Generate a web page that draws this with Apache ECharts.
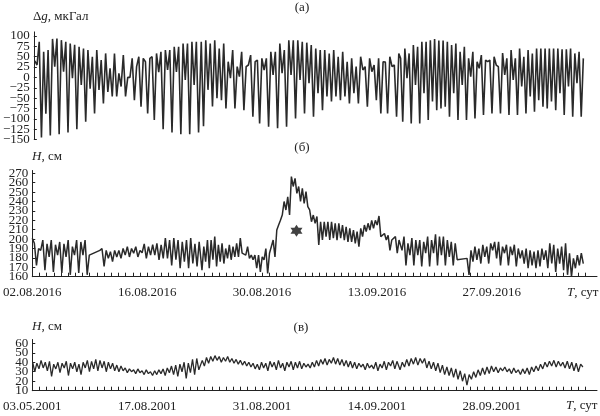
<!DOCTYPE html>
<html><head><meta charset="utf-8">
<script src="https://cdn.jsdelivr.net/npm/echarts@6/dist/echarts.min.js"></script>
<style>html,body{margin:0;padding:0;background:#fff}#c{width:600px;height:416px}</style>
</head><body><div id="c"></div>
<script>
// ---------- data ----------
const dateLabels2016 = ['02.08.2016', '16.08.2016', '30.08.2016', '13.09.2016', '27.09.2016'];
const dateLabels2001 = ['03.05.2001', '17.08.2001', '31.08.2001', '14.09.2001', '28.09.2001'];
const labelDays = [0, 14, 28, 42, 56];
const ticksA = [-150, -125, -100, -75, -50, -25, 0, 25, 50, 75, 100];
const ticksB = [160, 170, 180, 190, 200, 210, 220, 230, 240, 250, 260, 270];
const ticksC = [10, 20, 30, 40, 50, 60];

// (a) gravity tides, μGal — three consecutive record pieces
const tideA1 = [40, 30, 86, -145, 62, -88, 66, -140, 93, 26, 94, -137, 90, 14, 86, -133, 82, -2, 79, -125, 74, -18, 70, -107, 66, -27, 50, -87, 66, -30, 42, -63, 58, -35, 22, -46, 58, -46, 10, -22, 54, -46, 0, 0, 46, -55, 26, 50, -71, 46, 38, -87, 46, 50, -103, 58, 13, 62, -125, 66, 18, 66, -133, 74, 13, 74, -137, 82, -6, 82, -137, 86, -18, 86, -133];
const tideA2 = [86, -118, 90, -30, 82, -70, 90, -50, 70, -55, 82, -75, 38, -2, 66, -75, 26, 2, 62, -79, 26, 30, 54, -95, 38, 42, -111, 46, 18, 46, -119, 62, 6, 62, -123, 82, 10, 66, -119, 90, 6, 90, -99, 90, -6, 86, -87, 84, -14, 78, -95, 70, -38, 66, -79, 66, -46, 58, -58, 66, -46, 50, -55, 62, -46, 38, -63, 46, -38, 26, -63, 50, 18, 26, -71, 46, 14, 30, -55, 46, -87, 38, 37, -87, 50, 26, 30, -95, 58];
const tideA3 = [46, -107, 70, -2, 58, -111, 78, -18, 74, -111, 86, -38, 86, -103, 90, -58, 93, -79, 89, -75, 89, -71, 86, -95, 78, -38, 82, -103, 62, -18, 74, -103, 46, 2, 62, -99, 38, 22, 54, -91, 42, 38, 42, -87, 50, 30, 26, -87, 59, 6, 46, -91, 66, -6, 46, -91, 70, -22, 50, -87, 66, -46, 58, -83, 70, -55, 70, -71, 70, -75, 70, -58, 70, -79, 70, -38, 68, -91, 68, -22, 70, -95, 58, -14, 62, -95, 46];
const segDaysA = [[0.12, 20.13], [20.46, 44.6], [44.82, 67.15]];

// (б) water level 2016, cm (null = no record)
const levelB1 = [201, 195.5, 172, 190, 188, 199, 167, 195, 181, 199, 165, 194, 183, 197, 164, 195, 181, 199, 162, 192, 183, 199, 164, 197, 183, 199, 162, 183, null, null, null, null, 188, 190, 171, 188, 179.5, 186.6, 176, 188, 181, 188, 179.5, 190, 183, 192, 181, 190, 185, 192, 181, 188, 185.5, 195, 179.5, 192, 183, 194, 183, 195.5, 178, 194, 179.5, 201, 179.5, 199, 172, 201, 178, 199, 169, 197, 176, 199, 169, 201, 174, 195, 171, 197];
const levelB2 = [186.6, 167, 192, 176, 199, 169, 199, 178, 202.6, 171, 194, 176, 195.5, 174, 190, 179.5, 194, 178, 192, 181, 195.5, 181, 201, 185, 186.6, 183, 192, 179.5, 183, 178, 183, 169, 183, 165, 181, 178, 190, 163.5, 185, 183, 199, 181, 209.7, 215, 220, 225.6, 240, 231, 245, 225.6, 266.5, 256, 264.7, 248.7, 256, 240, 254, 238, 250.5, 234.5, 231, 218.5, 225.6, 216.8, 224, 193.7, 218.5, 199, 218.5, 202.6, 218.5, 199, 218.5, 201, 216.8, 199, 216.8, 201, 215, 199, 213, 197, 211.5, 197, 209.7, 195.5, 208, 192, 211.5, 202.6, 215, 208, 216.8, 209.7, 220, 211.5, 220, 215, 224.6, 202.6, 204, 206, 199, 204, 188, 199, 199, 202.6, 185, 199];
const levelB3 = [199, 188, 202.6, 172, 195.5, 183, 201, 172, 199, 183, 199, 171, 197, 185, 202.6, 171, 199, 185, 205, 172, 202.6, 183, 202.6, 172, 199, 181, 197, 172, 195.5, 178, 178, null, null, null, 179.5, 162, 188, 176, 192, 178, 190, 174, 194, 181, 192, 174, 195.5, 188, 197, 179.5, 197, 172, 192, 185, 194, 172, 192, 183, 194, 171, 190, 179.5, 188, 174, 190, 169, 188, 172, 186.6, 169, 188, 171, 190, 178, 188, 169, 195.5, 174, 194, 165, 190, 174, 192, 167, 195.5, 162, 185, 160, 179.5, 169, 183, 172, 185, 174];
const segDaysB = [[0, 20.34], [20.46, 44.7], [44.82, 67.15]];
const eventDay = 32.2, eventLevel = 209;

// (в) water level 2001, cm
const levelC1 = [40, 30, 39, 33, 42, 34, 40, 31, 41, 25, 38, 33, 40, 29, 39, 34, 41, 26, 39, 33, 40, 30, 38, 27, 40, 34, 42, 30, 41, 33, 43, 31, 42, 34, 41, 30, 40, 33, 39, 31, 37, 30, 36, 31, 34, 29, 33, 30, 32, 28, 33, 29, 31, 27, 32, 28, 30, 26, 31, 27, 32, 28, 33, 26, 34, 29, 36, 27, 37, 25, 38, 30, 40, 23, 39, 29, 43, 27, 44, 32];
const levelC2 = [30, 42, 36, 45, 39, 46, 41, 47, 42, 46, 40, 45, 41, 46, 40, 44, 39, 43, 38, 42, 37, 41, 36, 40, 35, 39, 33, 38, 32, 40, 34, 39, 31, 41, 35, 40, 32, 42, 34, 39, 31, 40, 35, 41, 32, 40, 34, 41, 33, 39, 35, 38, 34, 40, 35, 42, 36, 43, 38, 44, 37, 43, 39, 45, 38, 44, 37, 43, 36, 42, 35, 41, 34, 40, 33, 39, 35, 38, 32, 39, 34, 37, 33, 40, 31, 38, 34, 41, 32, 40, 36, 42, 33, 41, 35];
const levelC3 = [32, 40, 35, 43, 36, 44, 38, 45, 37, 44, 39, 44, 34, 41, 33, 40, 31, 39, 29, 37, 27, 35, 26, 34, 24, 33, 22, 31, 20, 28, 16, 27, 22, 30, 24, 32, 26, 34, 27, 35, 28, 36, 30, 35, 29, 34, 31, 35, 30, 33, 28, 34, 29, 32, 27, 33, 28, 34, 27, 35, 30, 36, 31, 38, 33, 40, 35, 41, 36, 42, 35, 41, 36, 40, 34, 41, 33, 40, 31, 39, 30, 38, 35];
const segDaysC = [[0.05, 20.3], [20.46, 44.7], [44.82, 67.1]];

// ---------- build ----------
function buildSeries(segments, bounds) {
  const out = [];
  segments.forEach((vals, k) => {
    const d0 = bounds[k][0], d1 = bounds[k][1];
    const step = (d1 - d0) / (vals.length - 1);
    vals.forEach((v, i) => out.push([d0 + i * step, v]));
  });
  return out;
}
const dataA = buildSeries([tideA1, tideA2, tideA3], segDaysA);
const dataB = buildSeries([levelB1, levelB2, levelB3], segDaysB);
const dataC = buildSeries([levelC1, levelC2, levelC3], segDaysC);

const FONT = 'Liberation Serif';
const INK = '#222';
const XMAX = 68.82;
const tickDays = [];
for (let i = 0; i <= 77; i++) tickDays.push(i * 0.875);
const evens = t => t.filter((_, i) => i % 2 === 0);
const odds = t => t.filter((_, i) => i % 2 === 1);

function minusFmt(v) { return v < 0 ? '\u2212' + Math.abs(v) : String(v); }

function xAxis(grid, show, labels) {
  return {
    type: 'value', gridIndex: grid, min: 0, max: XMAX, show: show,
    axisLine: { show: true, onZero: false, lineStyle: { color: INK, width: 1 } },
    axisTick: { show: true, inside: true, length: 4, customValues: tickDays, lineStyle: { color: INK, width: 1 } },
    axisLabel: {
      customValues: labelDays, margin: 9, fontFamily: FONT, fontSize: 13, color: INK,
      showMinLabel: true, showMaxLabel: true, hideOverlap: false,
      formatter: v => labels ? labels[labelDays.indexOf(v)] : ''
    },
    splitLine: { show: false }
  };
}
function yAxis(grid, min, max, ticks, labelVals, primary) {
  return {
    type: 'value', gridIndex: grid, min: min, max: max, position: 'left', offset: 0,
    axisLine: { show: primary, onZero: false, lineStyle: { color: INK, width: 1 } },
    axisTick: { show: primary, inside: true, length: 3, customValues: ticks, lineStyle: { color: INK } },
    axisLabel: {
      customValues: labelVals, margin: 4, fontFamily: FONT, fontSize: 13, color: INK, formatter: minusFmt,
      showMinLabel: true, showMaxLabel: true, hideOverlap: false
    },
    splitLine: { show: false }
  };
}
const lineStyle = (w) => ({ color: '#2a2a2a', width: w });

const starPath = 'path://M0,-10 L2.9,-5 L8.66,-5 L5.8,0 L8.66,5 L2.9,5 L0,10 L-2.9,5 L-8.66,5 L-5.8,0 L-8.66,-5 L-2.9,-5 Z';

function txt(x, y, text, align, rich) {
  return { type: 'text', x: x, y: y, style: { text: text, fontFamily: FONT, fontSize: 13, fill: INK, textAlign: align, textVerticalAlign: 'middle', rich: rich } };
}
const richI = { i: { fontFamily: FONT, fontSize: 13, fontStyle: 'italic', fill: INK, color: INK } };

const chart = echarts.init(document.getElementById('c'), null, { renderer: 'canvas' });
chart.setOption({
  animation: false,
  backgroundColor: '#fff',
  grid: [
    { left: 32, width: 565, top: 31.9, height: 107.6 },
    { left: 32, width: 565, top: 170.5, height: 106.2 },
    { left: 32, width: 565, top: 339.5, height: 51.2 }
  ],
  xAxis: [xAxis(0, false, null), xAxis(1, true, dateLabels2016), xAxis(2, true, dateLabels2001)],
  yAxis: [
    yAxis(0, -150, 110, ticksA, evens(ticksA), true),
    yAxis(1, 160, 273, ticksB, evens(ticksB), true),
    yAxis(2, 10, 64, ticksC, evens(ticksC), true),
    yAxis(0, -150, 110, ticksA, odds(ticksA), false),
    yAxis(1, 160, 273, ticksB, odds(ticksB), false),
    yAxis(2, 10, 64, ticksC, odds(ticksC), false)
  ],
  series: [
    { type: 'line', xAxisIndex: 0, yAxisIndex: 0, data: dataA, showSymbol: false, lineStyle: lineStyle(1.6), connectNulls: true },
    { type: 'line', xAxisIndex: 1, yAxisIndex: 1, data: dataB, showSymbol: false, lineStyle: lineStyle(1.5), connectNulls: true },
    { type: 'scatter', xAxisIndex: 1, yAxisIndex: 1, data: [[eventDay, eventLevel]], symbol: starPath, symbolSize: 12, itemStyle: { color: '#111' } },
    { type: 'line', xAxisIndex: 2, yAxisIndex: 2, data: dataC, showSymbol: false, lineStyle: lineStyle(1.3), connectNulls: true }
  ],
  graphic: [
    txt(33, 17, '\u0394{i|g}, мкГал', 'left', richI),
    txt(302, 8, '(а)', 'center'),
    txt(32, 157, '{i|H}, см', 'left', richI),
    txt(302, 148, '(б)', 'center'),
    txt(567, 293, '{i|T}, сут', 'left', richI),
    txt(32, 327, '{i|H}, см', 'left', richI),
    txt(301, 328, '(в)', 'center'),
    txt(566, 406, '{i|T}, сут', 'left', richI)
  ]
});
</script>
</body></html>
